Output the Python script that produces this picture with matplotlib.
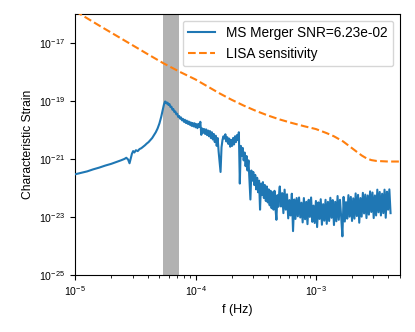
import numpy as np
import matplotlib
matplotlib.use("Agg")
import matplotlib.pyplot as plt
from matplotlib.ticker import NullLocator

plt.rcParams['font.family'] = ['Liberation Sans', 'DejaVu Sans']
plt.rcParams['mathtext.fontset'] = 'custom'
plt.rcParams['mathtext.rm'] = 'Liberation Sans'
plt.rcParams['mathtext.it'] = 'Liberation Sans:italic'
plt.rcParams['mathtext.bf'] = 'Liberation Sans:bold'

# ---- data (log10 values) ----
signal_label = "MS Merger SNR=6.23e-02"
lisa_label = "LISA sensitivity"

# low-frequency rise of the merger signal
sig_logf_a = [-5.000, -4.950, -4.900, -4.850, -4.800, -4.750, -4.700, -4.660, -4.620, -4.590,
              -4.575, -4.560, -4.548, -4.538, -4.528, -4.518, -4.508, -4.495, -4.480, -4.465,
              -4.450, -4.435, -4.420, -4.405, -4.390, -4.375, -4.360, -4.345, -4.330, -4.315,
              -4.300, -4.285, -4.272, -4.262, -4.253]
sig_logh_a = [-21.53, -21.48, -21.43, -21.36, -21.30, -21.23, -21.17, -21.11, -21.05, -21.00,
              -20.96, -21.02, -21.15, -20.98, -20.82, -20.73, -20.78, -20.70, -20.73, -20.66,
              -20.63, -20.58, -20.53, -20.47, -20.42, -20.35, -20.28, -20.18, -20.08, -19.95,
              -19.78, -19.55, -19.30, -19.12, -19.02]

# post-peak decline (dense, noisy)
sig_logf_c = [-4.248, -4.240, -4.232, -4.224, -4.216, -4.208, -4.200, -4.192, -4.184, -4.176,
              -4.168, -4.160, -4.152, -4.144, -4.136, -4.128, -4.120, -4.112, -4.104, -4.096,
              -4.088, -4.080, -4.072, -4.064, -4.056, -4.048, -4.040, -4.032, -4.024, -4.016,
              -4.008, -4.000, -3.992, -3.984, -3.976, -3.968, -3.960, -3.952, -3.944, -3.936,
              -3.928, -3.920, -3.912, -3.904, -3.896, -3.888, -3.880, -3.872, -3.864, -3.856,
              -3.848, -3.840, -3.832, -3.824, -3.816, -3.808, -3.800, -3.792, -3.784, -3.776,
              -3.768, -3.760, -3.752, -3.744, -3.736, -3.728, -3.720, -3.712, -3.704, -3.696,
              -3.688, -3.680, -3.672, -3.664, -3.656, -3.648, -3.640, -3.632, -3.624, -3.616,
              -3.608, -3.600, -3.592, -3.584, -3.576, -3.568, -3.560, -3.552, -3.544, -3.536,
              -3.528, -3.520, -3.512, -3.504, -3.496, -3.488, -3.480, -3.472, -3.464, -3.456,
              -3.448, -3.440, -3.432, -3.424, -3.416, -3.408, -3.400, -3.392, -3.384, -3.376,
              -3.368, -3.360, -3.352, -3.344, -3.336, -3.328, -3.320, -3.312, -3.304]
sig_logh_c = [-19.03, -19.09, -19.06, -19.14, -19.11, -19.21, -19.20, -19.30, -19.28, -19.38,
              -19.36, -19.46, -19.44, -19.55, -19.52, -19.61, -19.57, -19.67, -19.62, -19.72,
              -19.65, -19.76, -19.68, -19.79, -19.71, -19.82, -19.74, -19.86, -19.76, -19.88,
              -19.77, -19.91, -19.80, -19.94, -19.79, -19.90, -19.72, -20.17, -19.95, -20.10,
              -19.97, -20.14, -19.98, -20.18, -20.02, -20.22, -20.04, -20.28, -20.08, -20.33,
              -20.14, -20.42, -20.20, -20.55, -20.28, -20.75, -21.10, -21.45, -20.60, -20.35,
              -20.22, -20.30, -20.15, -20.40, -20.25, -20.48, -20.30, -20.58, -20.35, -20.55,
              -20.28, -20.50, -20.22, -20.42, -20.18, -20.35, -20.08, -21.85, -20.55, -20.90,
              -20.62, -21.05, -20.78, -21.25, -20.90, -21.40, -21.05, -21.70, -22.40, -21.40,
              -21.75, -21.45, -21.90, -21.55, -22.05, -21.65, -22.15, -21.75, -22.75, -21.85,
              -22.25, -21.80, -22.35, -21.90, -22.45, -21.95, -22.50, -22.05, -22.60, -22.10,
              -22.70, -22.15, -22.75, -22.10, -22.70, -23.10, -22.25, -22.65, -22.10]

# noisy high-frequency floor of the merger signal
sig_logf_b = [-3.30, -3.29, -3.28, -3.27, -3.26, -3.25, -3.24, -3.23, -3.22, -3.21,
              -3.20, -3.19, -3.18, -3.17, -3.16, -3.15, -3.14, -3.13, -3.12, -3.11,
              -3.10, -3.09, -3.08, -3.07, -3.06, -3.05, -3.04, -3.03, -3.02, -3.01,
              -3.00, -2.99, -2.98, -2.97, -2.96, -2.95, -2.94, -2.93, -2.92, -2.91,
              -2.90, -2.89, -2.88, -2.87, -2.86, -2.85, -2.84, -2.83, -2.82, -2.81,
              -2.80, -2.79, -2.78, -2.77, -2.76, -2.75, -2.74, -2.73, -2.72, -2.71,
              -2.70, -2.69, -2.68, -2.67, -2.66, -2.65, -2.64, -2.63, -2.62, -2.61,
              -2.60, -2.59, -2.58, -2.57, -2.56, -2.55, -2.54, -2.53, -2.52, -2.51,
              -2.50, -2.49, -2.48, -2.47, -2.46, -2.45, -2.44, -2.43, -2.42, -2.41,
              -2.40, -2.39, -2.38]
sig_logh_b = [-21.95, -22.64, -22.18, -22.87, -22.06, -22.75, -22.22, -23.05, -22.42, -22.95,
              -22.20, -23.49, -22.40, -23.07, -22.35, -22.98, -22.33, -23.02, -22.51, -23.19,
              -22.35, -23.08, -22.48, -23.25, -22.41, -23.00, -22.33, -23.17, -22.61, -23.21,
              -22.45, -23.35, -22.50, -23.07, -22.39, -23.27, -22.56, -23.13, -22.41, -23.24,
              -22.48, -23.14, -22.34, -23.03, -22.42, -23.28, -22.48, -23.15, -22.28, -23.10,
              -22.41, -23.01, -23.67, -22.31, -23.16, -22.49, -23.06, -22.25, -22.99, -22.31,
              -23.14, -22.36, -23.06, -22.19, -22.97, -22.24, -23.20, -22.35, -22.99, -22.17,
              -22.88, -22.23, -23.04, -22.26, -22.92, -22.12, -22.83, -22.16, -23.04, -22.26,
              -22.95, -22.06, -22.84, -22.14, -22.95, -22.20, -22.87, -22.06, -23.03, -22.13,
              -22.75, -22.05, -22.87]

# LISA sensitivity curve
lisa_logf = [-5.000, -4.800, -4.600, -4.400, -4.267, -4.129, -4.000, -3.900, -3.800, -3.700,
             -3.600, -3.500, -3.400, -3.300, -3.200, -3.100, -3.000, -2.911, -2.850, -2.773,
             -2.700, -2.662, -2.620, -2.580, -2.540, -2.497, -2.400, -2.300]
lisa_logh = [-15.90, -16.40, -16.89, -17.38, -17.70, -18.00, -18.26, -18.50, -18.74, -18.96,
             -19.16, -19.34, -19.50, -19.64, -19.76, -19.87, -19.97, -20.11, -20.22, -20.40,
             -20.63, -20.75, -20.88, -20.98, -21.04, -21.07, -21.09, -21.09]

band_f = [5.4e-5, 7.3e-5]

sig_f = 10.0 ** np.array(sig_logf_a + sig_logf_c + sig_logf_b)
sig_h = 10.0 ** np.array(sig_logh_a + sig_logh_c + sig_logh_b)
lisa_f = 10.0 ** np.array(lisa_logf)
lisa_h = 10.0 ** np.array(lisa_logh)

fig = plt.figure(figsize=(4.15, 3.32), dpi=100)
ax = fig.add_axes([0.181, 0.172, 0.783, 0.786])

ax.axvspan(band_f[0], band_f[1], color='gray', alpha=0.6, lw=0, zorder=1)
ax.loglog(sig_f, sig_h, color='#1f77b4', lw=1.5, label=signal_label, zorder=3)
ax.loglog(lisa_f, lisa_h, color='#ff7f0e', lw=1.5, ls='--', label=lisa_label, zorder=3)

ax.set_xlim(1e-5, 5e-3)
ax.set_ylim(1e-25, 1e-16)
ax.set_yticks([1e-25, 1e-23, 1e-21, 1e-19, 1e-17])
ax.yaxis.set_minor_locator(NullLocator())
ax.tick_params(labelsize=7.6)
ax.set_xlabel("f (Hz)", fontsize=9)
ax.set_ylabel("Characteristic Strain", fontsize=8.7)
ax.legend(loc='upper right', fontsize=9.8)

fig.savefig("out.png", dpi=100)
